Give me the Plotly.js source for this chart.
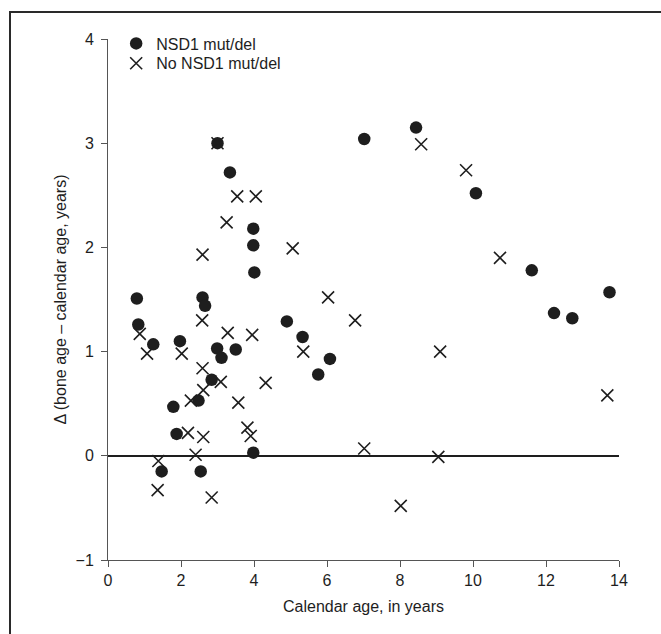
<!DOCTYPE html>
<html>
<head>
<meta charset="utf-8">
<script src="https://cdn.plot.ly/plotly-3.0.1.min.js"></script>
<style>
  html, body { margin: 0; padding: 0; background: #fff; }
  #wrap { position: relative; width: 661px; height: 634px; }
  #chart { position: absolute; left: 0; top: 0; width: 661px; height: 634px; }
  #frame { position: absolute; left: 9px; top: 11px; width: 652px; height: 623px;
           border-left: 2px solid #2a2a2a; border-top: 2px solid #2a2a2a; pointer-events: none; }
</style>
</head>
<body>
<div id="wrap">
  <div id="chart"></div>
  <div id="frame"></div>
</div>
<script>
// NSD1 mut/del (filled circles)
const nsdAge = [0.79, 0.83, 1.24, 1.79, 1.88, 1.47, 1.97, 2.48, 2.54, 2.59, 2.66, 2.84, 2.99, 3.00, 3.11, 3.34, 3.50, 3.98, 3.98, 4.01, 3.98, 4.90, 5.33, 5.76, 6.08, 7.02, 8.44, 10.08, 11.61, 12.22, 12.72, 13.74];
const nsdDelta = [1.51, 1.26, 1.07, 0.47, 0.21, -0.15, 1.10, 0.53, -0.15, 1.52, 1.44, 0.73, 1.03, 3.00, 0.94, 2.72, 1.02, 2.18, 2.02, 1.76, 0.03, 1.29, 1.14, 0.78, 0.93, 3.04, 3.15, 2.52, 1.78, 1.37, 1.32, 1.57];

// No NSD1 mut/del (crosses)
const noAge = [0.87, 1.07, 1.36, 1.38, 2.02, 2.19, 2.27, 2.40, 2.58, 2.59, 2.61, 2.61, 2.59, 2.84, 3.00, 3.09, 3.25, 3.28, 3.54, 3.57, 3.82, 3.91, 3.95, 4.05, 4.32, 5.06, 5.35, 6.03, 6.77, 7.02, 8.02, 8.58, 9.05, 9.10, 9.81, 10.74, 13.68];
const noDelta = [1.17, 0.98, -0.33, -0.05, 0.98, 0.22, 0.53, 0.01, 1.30, 0.84, 0.63, 0.18, 1.93, -0.40, 3.00, 0.71, 2.24, 1.18, 2.49, 0.51, 0.27, 0.19, 1.16, 2.49, 0.70, 1.99, 1.00, 1.52, 1.30, 0.07, -0.48, 2.99, -0.01, 1.00, 2.74, 1.90, 0.58];

const xTicks = [0, 2, 4, 6, 8, 10, 12, 14];
const yTicks = [-1, 0, 1, 2, 3, 4];
const yTickText = ['\u22121', '0', '1', '2', '3', '4'];

const FONT = '"Liberation Sans", Arial, Helvetica, sans-serif';
const INK = '#1e1e1e';

const traces = [
  {
    x: nsdAge, y: nsdDelta, type: 'scatter', mode: 'markers', name: 'NSD1 mut/del',
    legend: 'legend',
    marker: { symbol: 'circle', size: 12.5, color: INK, line: { width: 0 } }
  },
  {
    x: noAge, y: noDelta, type: 'scatter', mode: 'markers', name: 'No NSD1 mut/del',
    legend: 'legend2',
    marker: { symbol: 'x-thin-open', size: 12, color: INK, line: { width: 1.6, color: INK } }
  }
];

const legendBase = {
  xanchor: 'left', yanchor: 'top',
  bgcolor: 'rgba(0,0,0,0)', borderwidth: 0,
  font: { family: FONT, size: 16, color: INK }
};

const layout = {
  width: 661, height: 634,
  margin: { l: 108, r: 42, t: 39, b: 74 },
  paper_bgcolor: '#fff', plot_bgcolor: '#fff',
  font: { family: FONT, size: 16, color: INK },
  showlegend: true,
  legend: Object.assign({}, legendBase, { x: 0.016, y: 1.024 }),
  legend2: Object.assign({}, legendBase, { x: 0.016, y: 0.986 }),
  xaxis: {
    range: [0, 14], tickvals: xTicks, ticktext: xTicks.map(String),
    showgrid: false, zeroline: false,
    showline: true, linecolor: '#555', linewidth: 1,
    ticks: 'outside', ticklen: 6, tickcolor: '#555', tickwidth: 1,
    tickfont: { family: FONT, size: 16, color: INK },
    title: { text: 'Calendar age, in years', font: { family: FONT, size: 16, color: INK }, standoff: 12 },
    automargin: false, fixedrange: true
  },
  yaxis: {
    range: [-1, 4], tickvals: yTicks, ticktext: yTickText,
    showgrid: false,
    zeroline: true, zerolinecolor: INK, zerolinewidth: 1.5,
    showline: true, linecolor: '#555', linewidth: 1,
    ticks: 'outside', ticklen: 6, tickcolor: '#555', tickwidth: 1,
    ticklabelstandoff: 4,
    tickfont: { family: FONT, size: 16, color: INK },
    title: { text: '\u0394 (bone age \u2013 calendar age, years)', font: { family: FONT, size: 16, color: INK }, standoff: 4 },
    automargin: false, fixedrange: true
  }
};

Plotly.newPlot('chart', traces, layout, { displayModeBar: false, staticPlot: true });
</script>
</body>
</html>
